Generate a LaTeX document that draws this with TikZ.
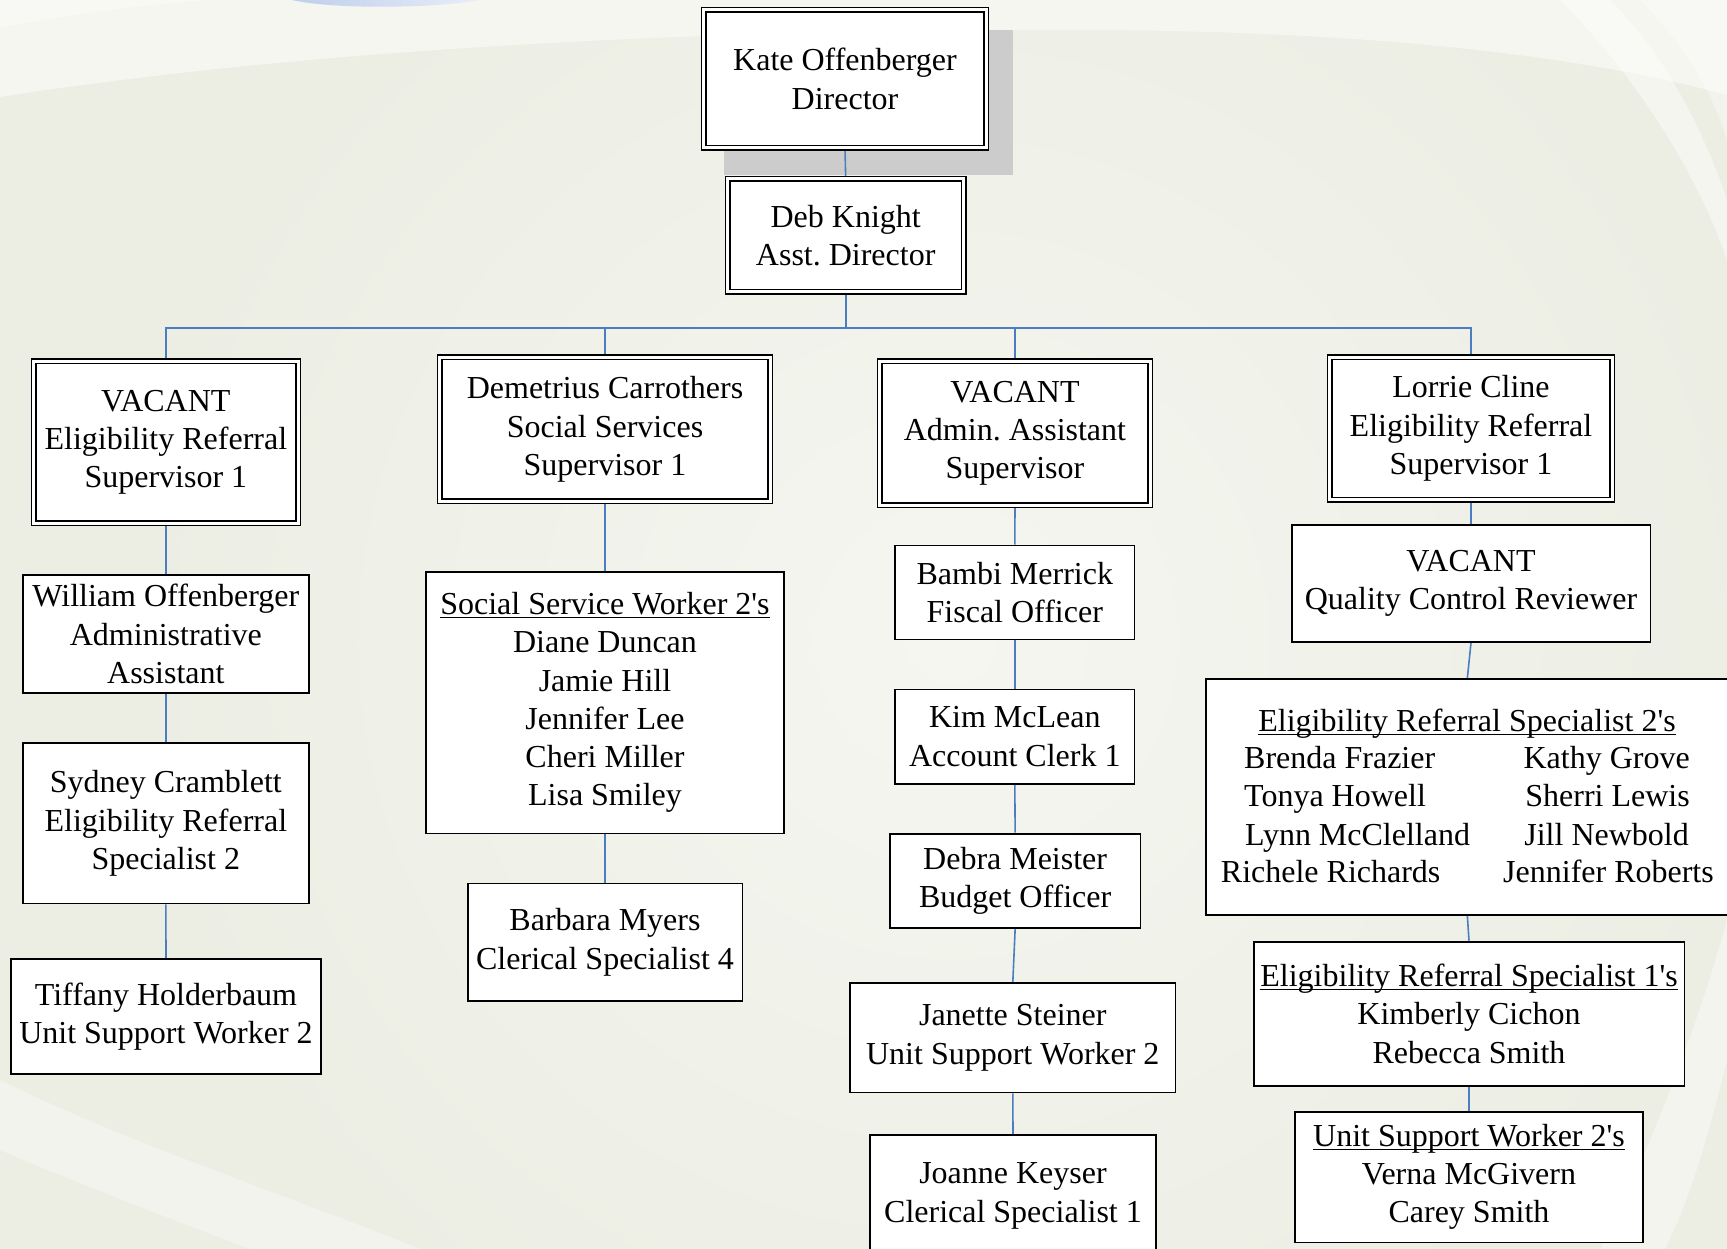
\documentclass[tikz,border=0pt]{standalone}
\usepackage{fontspec}
\setmainfont{Liberation Serif}
\usetikzlibrary{calc}
\pgfdeclarelayer{background}
\pgfsetlayers{background,main}
\definecolor{bgbase}{RGB}{236,237,227}
\definecolor{bglight}{RGB}{245,246,240}
\definecolor{conncol}{RGB}{74,126,193}
\definecolor{shadowcol}{RGB}{204,204,204}
\definecolor{swooshcol}{RGB}{190,206,236}
\newcommand\myul[1]{\setbox0=\hbox{#1}\rlap{\rule[-3.5pt]{\wd0}{1.2pt}}\box0}
\newcommand\sq{\textquotesingle}
\newcommand\obox[8]{%
  \node[#1, minimum width={#6-#4-#2}, minimum height={#7-#5-#2}] (#3) at ({(#4+#6)/2},{(#5+#7)/2}) {#8};}
\tikzset{
  conn/.style={draw=conncol, line width=1.6pt},
  sbox/.style={draw=black, line width=1.8pt, fill=white, inner sep=0pt, align=center,
               font=\fontsize{32}{38.2}\selectfont\frenchspacing},
  dbox/.style={sbox, line width=1.5pt, double=white, double distance=3pt},
  txt/.style={inner sep=0pt, font=\fontsize{32}{38.2}\selectfont\frenchspacing},
}
\begin{document}
\begin{tikzpicture}[x=1pt,y=-1pt]
\useasboundingbox (0,0) rectangle (1727,1249);
% ---------- boxes ----------
\obox{dbox}{6}{dir}{700.7}{6.7}{989.3}{151}{Kate Offenberger\\Director}
\obox{dbox}{6}{asst}{724.7}{176}{966.7}{295}{Deb Knight\\Asst. Director}
\obox{dbox}{6}{s1}{30.7}{358.3}{301}{526}{VACANT\\Eligibility Referral\\Supervisor 1}
\obox{dbox}{6}{s2}{436.7}{354.4}{773.3}{504.4}{Demetrius Carrothers\\Social Services\\Supervisor 1}
\obox{dbox}{6}{s3}{876.7}{358.3}{1153.3}{508.3}{VACANT\\Admin. Assistant\\Supervisor}
\obox{dbox}{6}{s4}{1326.7}{354}{1615.3}{502.7}{Lorrie Cline\\Eligibility Referral\\Supervisor 1}
% column 1
\obox{sbox}{1.8}{a1}{21.7}{574}{310}{694}{William Offenberger\\Administrative\\Assistant}
\obox{sbox}{1.8}{a2}{21.7}{742.3}{310}{904.3}{Sydney Cramblett\\Eligibility Referral\\Specialist 2}
\obox{sbox}{1.8}{a3}{10}{958.3}{322}{1075}{Tiffany Holderbaum\\Unit Support Worker 2}
% column 2
\obox{sbox}{1.8}{b1}{425}{570.9}{785}{834.3}{\myul{Social Service Worker 2\sq s}\\Diane Duncan\\Jamie Hill\\Jennifer Lee\\Cheri Miller\\Lisa Smiley}
\obox{sbox}{1.8}{b2}{466.7}{882.5}{743.3}{1002.1}{Barbara Myers\\Clerical Specialist 4}
% column 3
\obox{sbox}{1.8}{c1}{894.3}{544.6}{1135.3}{640.3}{Bambi Merrick\\Fiscal Officer}
\obox{sbox}{1.8}{c2}{894.3}{688.5}{1135.3}{784.6}{Kim McLean\\Account Clerk 1}
\obox{sbox}{1.8}{c3}{889}{832.7}{1141.3}{928.7}{Debra Meister\\Budget Officer}
\obox{sbox}{1.8}{c4}{849.3}{982.3}{1176.3}{1093.3}{Janette Steiner\\Unit Support Worker 2}
\obox{sbox}{1.8}{c5}{869}{1134}{1157}{1258}{Joanne Keyser\\Clerical Specialist 1}
% column 4
\obox{sbox}{1.8}{d1}{1290.7}{524}{1651.3}{642.7}{VACANT\\Quality Control Reviewer}
\obox{sbox}{1.8}{d2}{1204.7}{678}{1730}{915.7}{}
\obox{sbox}{1.8}{d3}{1252.7}{940.7}{1685.3}{1086.7}{\myul{Eligibility Referral Specialist 1\sq s}\\Kimberly Cichon\\Rebecca Smith}
\obox{sbox}{1.8}{d4}{1294}{1110.7}{1644}{1243.3}{\myul{Unit Support Worker 2\sq s}\\Verna McGivern\\Carey Smith}
% texts of the two-column box
\node[txt, anchor=base] (d2t) at (1467,731.7) {\myul{Eligibility Referral Specialist 2\sq s}};
\node[txt, anchor=base west] (d2l1) at (1244,768.3) {Brenda Frazier};
\node[txt, anchor=base west] (d2l2) at (1244,806.7) {Tonya Howell};
\node[txt, anchor=base west] (d2l3) at (1245,845) {Lynn McClelland};
\node[txt, anchor=base west] (d2l4) at (1220.7,882.7) {Richele Richards};
\node[txt, anchor=base east] (d2r1) at (1690,768.3) {Kathy Grove};
\node[txt, anchor=base east] (d2r2) at (1690,806.7) {Sherri Lewis};
\node[txt, anchor=base east] (d2r3) at (1689,845) {Jill Newbold};
\node[txt, anchor=base east] (d2r4) at (1714,882.7) {Jennifer Roberts};
% ---------- background, shadow, connectors ----------
\begin{pgfonlayer}{background}
\fill[bgbase] (0,0) rectangle (1727,1249);
\shade[inner color=bglight, outer color=bgbase] (950,640) circle (820);
\fill[bglight] (0,0) -- (0,97) .. controls (300,50) and (700,28) .. (1100,30)
   .. controls (1400,32) and (1600,60) .. (1727,95) -- (1727,0) -- cycle;
\fill[white, opacity=0.35] (0,28) .. controls (60,15) and (150,4) .. (210,0) -- (0,0) -- cycle;
\fill[white, opacity=0.45] (1560,0) .. controls (1640,80) and (1700,180) .. (1727,260)
   -- (1727,200) .. controls (1700,120) and (1660,50) .. (1610,0) -- cycle;
\fill[white, opacity=0.35] (1640,0) .. controls (1690,50) and (1715,100) .. (1727,140)
   -- (1727,0) -- cycle;
\fill[white, opacity=0.4] (1600,1249) .. controls (1650,1150) and (1700,1020) .. (1727,920)
   -- (1727,1060) .. controls (1710,1130) and (1690,1200) .. (1665,1249) -- cycle;
\fill[white, opacity=0.35] (0,1080) .. controls (120,1140) and (300,1200) .. (420,1249)
   -- (250,1249) .. controls (160,1215) and (70,1180) .. (0,1150) -- cycle;
\shade[left color=swooshcol, right color=swooshcol!35!white]
   (292,0) .. controls (330,9) and (430,9) .. (480,0) -- cycle;
\fill[shadowcol] (724,30) rectangle (1013,175);
% connectors
\coordinate (busy) at (0,328);
\draw[conn] (dir.south) -- (asst.north);
\draw[conn] (asst.south) -- (asst.south |- busy);
\draw[conn] (s1.north) -- (s1.north |- busy) -- (s4.north |- busy) -- (s4.north);
\draw[conn] (s2.north) -- (s2.north |- busy);
\draw[conn] (s3.north) -- (s3.north |- busy);
\draw[conn] (s1.south) -- (a1.north);
\draw[conn] (a1.south) -- (a2.north);
\draw[conn] (a2.south) -- (a3.north);
\draw[conn] (s2.south) -- (b1.north);
\draw[conn] (b1.south) -- (b2.north);
\draw[conn] (s3.south) -- (c1.north);
\draw[conn] (c1.south) -- (c2.north);
\draw[conn] (c2.south) -- (c3.north);
\draw[conn] (c3.south) -- (c4.north);
\draw[conn] (c4.south) -- (c5.north);
\draw[conn] (s4.south) -- (d1.north);
\draw[conn] (d1.south) -- (d2.north);
\draw[conn] (d2.south) -- (d3.north);
\draw[conn] (d3.south) -- (d4.north);
\end{pgfonlayer}
\end{tikzpicture}
\end{document}
